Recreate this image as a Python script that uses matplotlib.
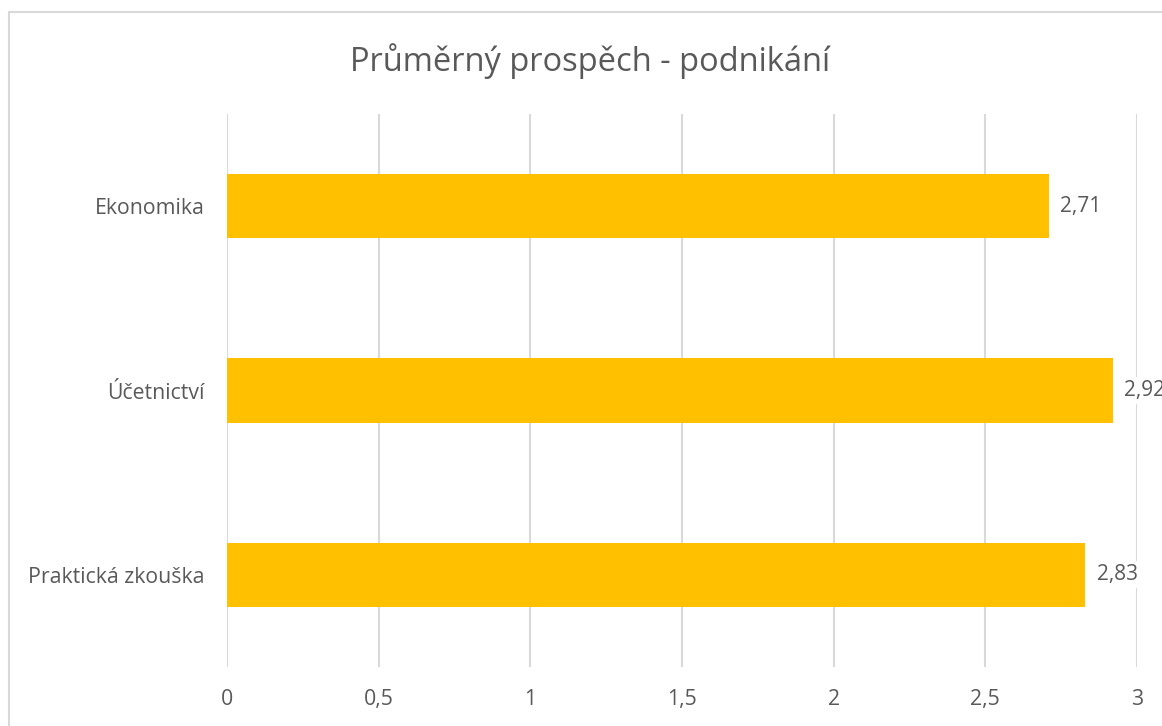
import matplotlib.pyplot as plt
from matplotlib.patches import Rectangle

# data
categories = ["Ekonomika", "Účetnictví", "Praktická zkouška"]
values = [2.71, 2.92, 2.83]
xticks = [0, 0.5, 1, 1.5, 2, 2.5, 3]

plt.rcParams["font.family"] = ["Open Sans", "DejaVu Sans"]
text_color = "#595959"
grid_color = "#d9d9d9"

fig = plt.figure(figsize=(11.62, 7.26), dpi=100)
ax = fig.add_axes([227 / 1162, 1 - 667 / 726, (1137 - 227) / 1162, (667 - 114) / 726])

# light frame of the chart area (cut at right/bottom like the source)
fig.patches.append(Rectangle((9 / 1162, -0.1), 1.2, 1 - 12 / 726 + 0.1,
                             transform=fig.transFigure, fill=False,
                             edgecolor=grid_color, linewidth=1.5))

ypos = list(range(len(categories)))
ax.barh(ypos, values, height=0.35, color="#ffc000", zorder=2)

for y, v in zip(ypos, values):
    ax.annotate(f"{v:.2f}".replace(".", ","), xy=(v, y), xytext=(8, 0),
                textcoords="offset points", va="center", ha="left",
                fontsize=15, color=text_color, zorder=3,
                bbox=dict(boxstyle="square,pad=0.15", fc="white", ec="none"),
                annotation_clip=False)

ax.set_xlim(0, 3)
ax.set_ylim(len(categories) - 0.5, -0.5)
ax.set_yticks(ypos)
ax.set_yticklabels(categories)
ax.set_xticks(xticks)
ax.set_xticklabels([f"{t:g}".replace(".", ",") for t in xticks])
ax.grid(axis="x", color=grid_color, linewidth=1.5, zorder=0)
ax.set_axisbelow(True)
for s in ax.spines.values():
    s.set_visible(False)
ax.tick_params(length=0, labelsize=15.3, colors=text_color)
ax.tick_params(axis="x", pad=16)
ax.tick_params(axis="y", pad=16)

fig.text(590 / 1162, 1 - 61 / 726, "Průměrný prospěch - podnikání",
         ha="center", va="center", fontsize=23.5, color=text_color)

fig.savefig("out.png", dpi=100)
